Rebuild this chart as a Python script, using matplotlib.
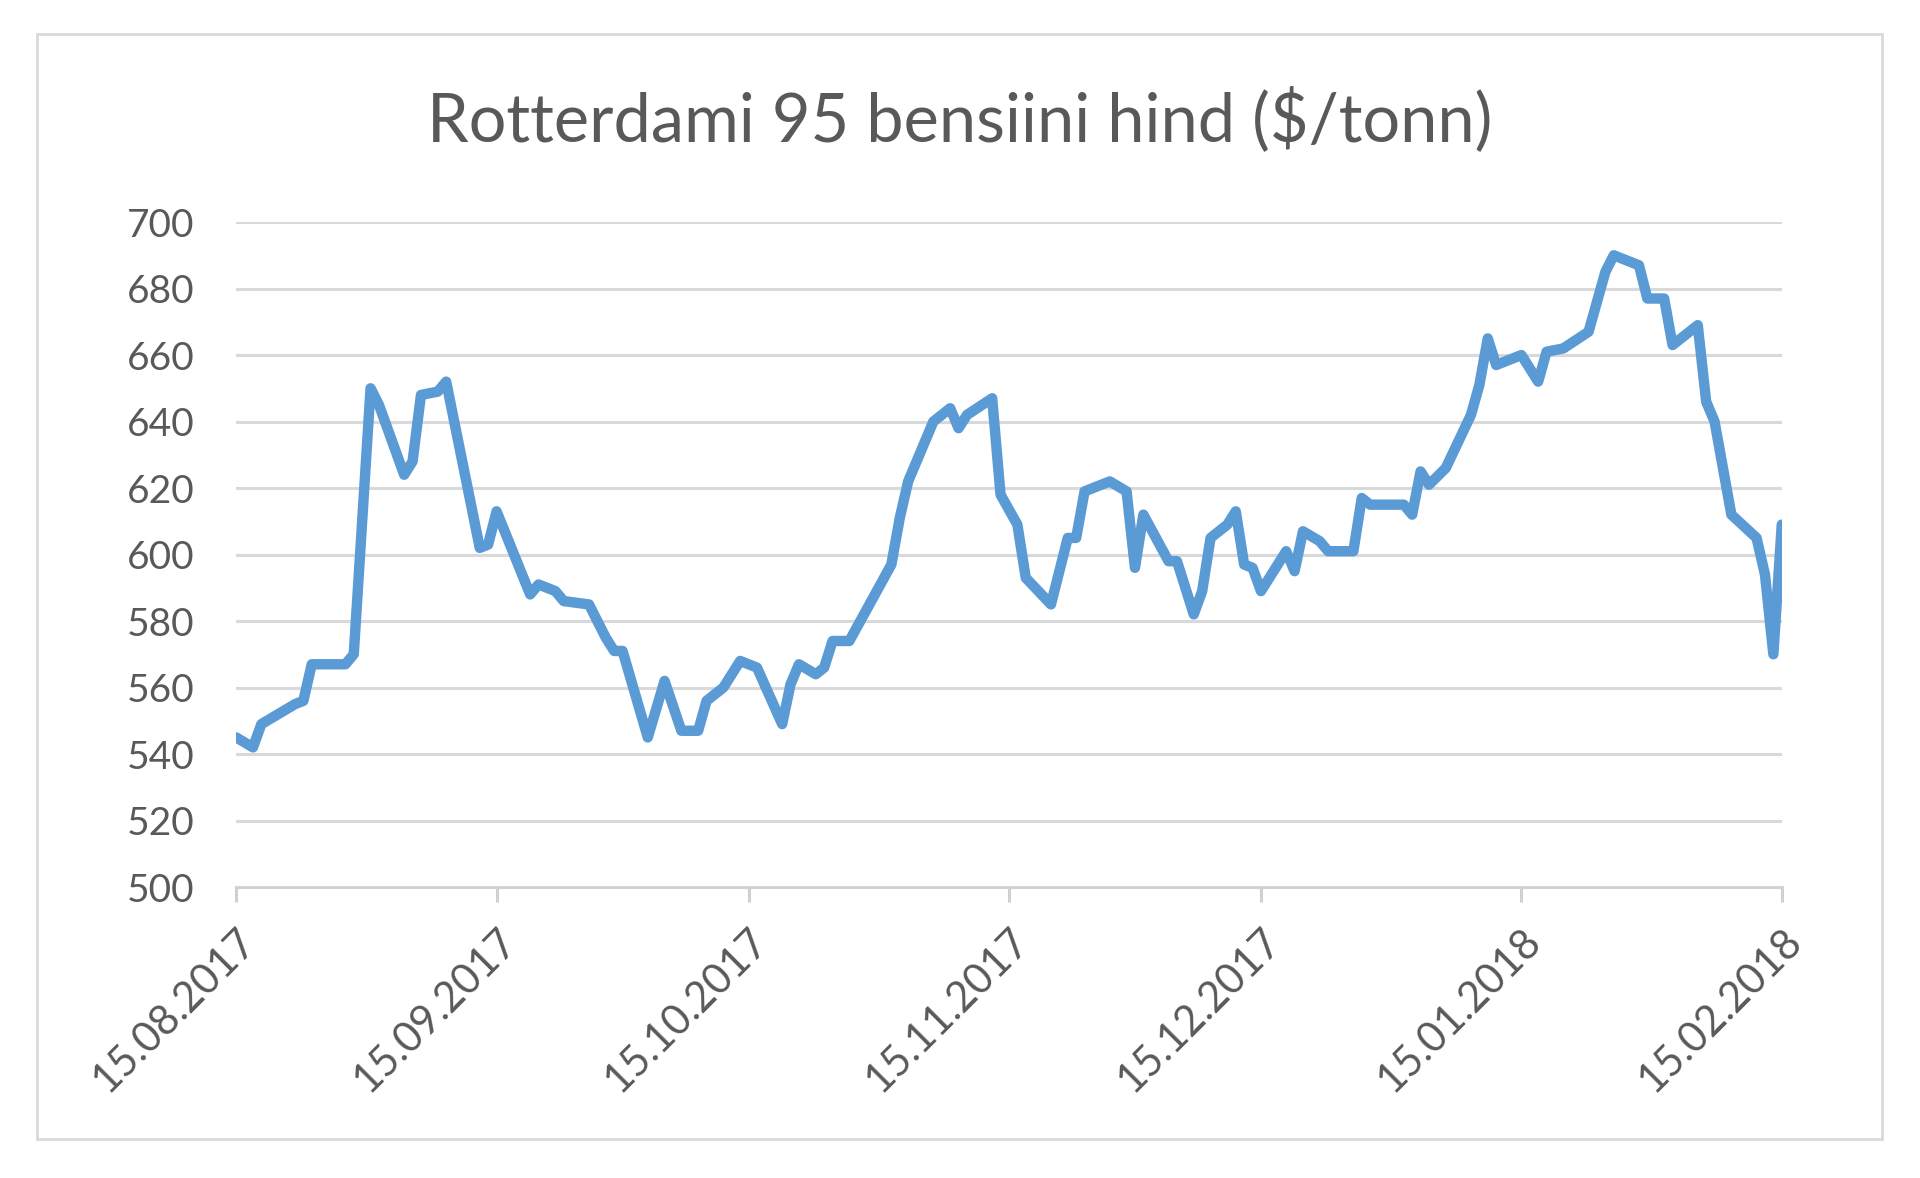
import matplotlib
matplotlib.use("Agg")
import matplotlib.pyplot as plt
import matplotlib.dates as mdates
from matplotlib.patches import Rectangle
import pandas as pd

# Rotterdam 95 gasoline price
dates = [
    "2017-08-15", "2017-08-17", "2017-08-18", "2017-08-20", "2017-08-22", "2017-08-23",
    "2017-08-24", "2017-08-28", "2017-08-29", "2017-08-31", "2017-09-01", "2017-09-04",
    "2017-09-05", "2017-09-06", "2017-09-08", "2017-09-09", "2017-09-13", "2017-09-14",
    "2017-09-15", "2017-09-19", "2017-09-20", "2017-09-22", "2017-09-23", "2017-09-26",
    "2017-09-28", "2017-09-29", "2017-09-30", "2017-10-03", "2017-10-05", "2017-10-07",
    "2017-10-09", "2017-10-10", "2017-10-12", "2017-10-14", "2017-10-16", "2017-10-19",
    "2017-10-20", "2017-10-21", "2017-10-23", "2017-10-24", "2017-10-25", "2017-10-27",
    "2017-11-01", "2017-11-02", "2017-11-03", "2017-11-06", "2017-11-08", "2017-11-09",
    "2017-11-10", "2017-11-13", "2017-11-14", "2017-11-16", "2017-11-17", "2017-11-20",
    "2017-11-22", "2017-11-23", "2017-11-24", "2017-11-27", "2017-11-29", "2017-11-30",
    "2017-12-01", "2017-12-04", "2017-12-05", "2017-12-07", "2017-12-08", "2017-12-09",
    "2017-12-11", "2017-12-12", "2017-12-13", "2017-12-14", "2017-12-15", "2017-12-18",
    "2017-12-19", "2017-12-20", "2017-12-22", "2017-12-23", "2017-12-26", "2017-12-27",
    "2017-12-28", "2018-01-01", "2018-01-02", "2018-01-03", "2018-01-04", "2018-01-06",
    "2018-01-09", "2018-01-10", "2018-01-11", "2018-01-12", "2018-01-15", "2018-01-17",
    "2018-01-18", "2018-01-20", "2018-01-23", "2018-01-25", "2018-01-26", "2018-01-29",
    "2018-01-30", "2018-02-01", "2018-02-02", "2018-02-05", "2018-02-06", "2018-02-07",
    "2018-02-09", "2018-02-12", "2018-02-13", "2018-02-14", "2018-02-15",
]
prices = [
    545, 542, 549, 552, 555, 556,
    567, 567, 570, 650, 645, 624,
    628, 648, 649, 652, 602, 603,
    613, 588, 591, 589, 586, 585,
    575, 571, 571, 545, 562, 547,
    547, 556, 560, 568, 566, 549,
    561, 567, 564, 566, 574, 574,
    597, 611, 622, 640, 644, 638,
    642, 647, 618, 609, 593, 585,
    605, 605, 619, 622, 619, 596,
    612, 598, 598, 582, 589, 605,
    609, 613, 597, 596, 589, 601,
    595, 607, 604, 601, 601, 617,
    615, 615, 612, 625, 621, 626,
    642, 651, 665, 657, 660, 652,
    661, 662, 667, 685, 690, 687,
    677, 677, 663, 669, 646, 640,
    612, 605, 594, 570, 609,
]
tick_dates = ["2017-08-15", "2017-09-15", "2017-10-15", "2017-11-15",
              "2017-12-15", "2018-01-15", "2018-02-15"]
y_ticks = [500, 520, 540, 560, 580, 600, 620, 640, 660, 680, 700]

x = pd.to_datetime(dates)
xt = pd.to_datetime(tick_dates)

plt.rcParams['font.family'] = ['Lato', 'DejaVu Sans']
grey = '#595959'

fig = plt.figure(figsize=(19.2, 11.78), dpi=100)
ax = fig.add_axes([0.123, 0.247, 0.805, 0.5645])

ax.plot(x, prices, color='#5B9BD5', linewidth=7.5, solid_joinstyle='round',
        solid_capstyle='round', zorder=3)

ax.set_xlim(xt[0], xt[-1])
ax.set_ylim(500, 700)
ax.set_yticks(y_ticks)
ax.set_xticks(xt)
ax.xaxis.set_major_formatter(mdates.DateFormatter('%d.%m.%Y'))

ax.grid(axis='y', color='#d9d9d9', linewidth=2.2, zorder=0)
for s in ['top', 'right', 'left']:
    ax.spines[s].set_visible(False)
ax.spines['bottom'].set_color('#d0d0d0')
ax.spines['bottom'].set_linewidth(2.2)
ax.spines['bottom'].set_zorder(1)

ax.tick_params(axis='y', length=0, labelsize=28, labelcolor=grey, pad=30)
ax.tick_params(axis='x', length=11, width=2.2, color='#d0d0d0',
               labelsize=30, labelcolor=grey, pad=14)
for lab in ax.get_xticklabels():
    lab.set_rotation(45)
    lab.set_ha('right')
    lab.set_va('top')
    lab.set_rotation_mode('anchor')

fig.text(0.5, 0.898, 'Rotterdami 95 bensiini hind ($/tonn)', ha='center', va='center',
         fontsize=48, color=grey)

fig.add_artist(Rectangle((0.0193, 0.033), 0.9607, 0.938, transform=fig.transFigure,
                         fill=False, edgecolor='#d9d9d9', linewidth=2))

fig.savefig('out.png', dpi=100, facecolor='white')
